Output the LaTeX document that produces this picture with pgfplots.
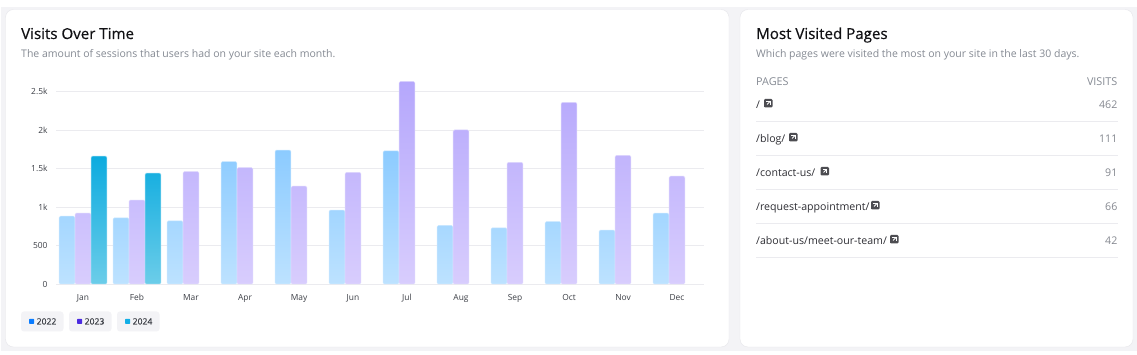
\documentclass[border=0pt]{standalone}
\usepackage{pgfplots}
\pgfplotsset{compat=1.18}
\usepackage{fontspec}
\setmainfont{Open Sans}
\definecolor{pagebg}{HTML}{F3F3F6}
\definecolor{cardline}{HTML}{E6E6EA}
\definecolor{gridc}{HTML}{EBEBEF}
\definecolor{ttl}{HTML}{111114}
\definecolor{sub}{HTML}{858A93}
\definecolor{ticktxt}{HTML}{3C3F46}
\definecolor{rowtxt}{HTML}{2E2E34}
\definecolor{numtxt}{HTML}{858890}
\definecolor{bluetop}{HTML}{8CCBFF}
\definecolor{bluebot}{HTML}{BDE2FF}
\definecolor{purptop}{HTML}{B5A7FC}
\definecolor{purpbot}{HTML}{D8CDFD}
\definecolor{tealtop}{HTML}{0CABDF}
\definecolor{tealbot}{HTML}{6CCDE9}
\definecolor{leg1}{HTML}{0A7CFF}
\definecolor{leg2}{HTML}{4B2BE0}
\definecolor{leg3}{HTML}{12AEE6}
\pgfplotstableread{
x y
0 880
1 860
2 820
3 1590
4 1740
5 960
6 1730
7 760
8 730
9 810
10 700
11 920
}\seriesA
\pgfplotstableread{
x y
0 920
1 1090
2 1460
3 1510
4 1270
5 1450
6 2630
7 2000
8 1580
9 2360
10 1670
11 1400
}\seriesB
\pgfplotstableread{
x y
0 1660
1 1440
}\seriesC
\newcommand{\extlink}[2]{%
  \fill[rowtxt!85!white,rounded corners=1.2pt] (#1,#2) rectangle ++(8.5pt,8.5pt);
  \fill[white] (#1+2pt,#2+2pt) rectangle ++(4.5pt,4.5pt);
  \fill[rowtxt!85!white] (#1+0pt,#2+0pt) rectangle ++(5.5pt,5.5pt);
  \draw[white,line width=0.8pt] (#1+3pt,#2+3pt) -- ++(3.2pt,3.2pt);
}
\begin{document}
\begin{tikzpicture}[x=1pt,y=1pt]
\fill[white] (0,0) rectangle (1137,355);
\fill[pagebg] (1,4) rectangle (1137,348);
\draw[cardline,fill=white,rounded corners=8pt] (5.5,8) rectangle (729,345.5);
\draw[cardline,fill=white,rounded corners=8pt] (740,8) rectangle (1133,345.5);
% left header
\node[anchor=base west,inner sep=0pt,text=ttl,font=\fontsize{15.1}{18}\selectfont\addfontfeature{FakeBold=0.5}] at (21,316) {Visits Over Time};
\node[anchor=base west,inner sep=0pt,text=sub,font=\fontsize{10.5}{13}\selectfont] at (21,297.3) {The amount of sessions that users had on your site each month.};
% chart
\begin{axis}[
  at={(56pt,71pt)},anchor=south west,
  scale only axis,width=648pt,height=207.9pt,
  xmin=-0.5,xmax=11.5,ymin=0,ymax=2700,
  axis line style={draw=none},
  axis x line*=bottom, axis y line*=left,
  clip=false,
  ytick={0,500,1000,1500,2000,2500},
  yticklabels={0,500,1k,1.5k,2k,2.5k},
  xtick={0,...,11},
  xticklabels={Jan,Feb,Mar,Apr,May,Jun,Jul,Aug,Sep,Oct,Nov,Dec},
  major tick length=0pt,
  ymajorgrids,
  grid style={gridc,line width=0.9pt},
  tick label style={text=ticktxt,font=\fontsize{8.4}{10}\selectfont},
  /pgf/number format/assume math mode=true,
  xticklabel style={yshift=-6.8pt},
  yticklabel style={xshift=-5pt},
]
\addplot[ybar,bar width=15.6pt,bar shift=-16pt,draw=bluetop!45!white,line width=0.5pt,rounded corners=1.2pt,top color=bluetop,bottom color=bluebot] table[x=x,y=y] {\seriesA};
\addplot[ybar,bar width=15.6pt,bar shift=0pt,draw=purptop!45!white,line width=0.5pt,rounded corners=1.2pt,top color=purptop,bottom color=purpbot] table[x=x,y=y] {\seriesB};
\addplot[ybar,bar width=15.6pt,bar shift=16pt,draw=tealtop!45!white,line width=0.5pt,rounded corners=1.2pt,top color=tealtop,bottom color=tealbot] table[x=x,y=y] {\seriesC};
\end{axis}
% legend chips
\foreach \cx/\lab/\col in {21/2022/leg1,69/2023/leg2,117/2024/leg3}{
  \fill[pagebg,rounded corners=3pt] (\cx,23.5) rectangle ++(42.5,20);
  \fill[\col,rounded corners=0.8pt] (\cx+8,31) rectangle ++(5.2,5.2);
  \node[anchor=base west,inner sep=0pt,text=ticktxt,font=\fontsize{8.6}{10}\selectfont\addfontfeature{FakeBold=0.3}] at (\cx+15.5,30.5) {\lab};
}
% right header
\node[anchor=base west,inner sep=0pt,text=ttl,font=\fontsize{15.1}{18}\selectfont\addfontfeature{FakeBold=0.5}] at (756,316) {Most Visited Pages};
\node[anchor=base west,inner sep=0pt,text=sub,font=\fontsize{10.5}{13}\selectfont] at (756,297.3) {Which pages were visited the most on your site in the last 30 days.};
\node[anchor=base west,inner sep=0pt,text=sub,font=\fontsize{10.8}{12}\selectfont] at (756,269.2) {PAGES};
\node[anchor=base east,inner sep=0pt,text=sub,font=\fontsize{10.8}{12}\selectfont] at (1117.5,269.2) {VISITS};
% rows
\foreach \base/\lab/\val/\ix/\ln in {
  246/{/}/462/764/234,
  212/{/blog/}/111/789/200,
  178/{/contact-us/}/91/820.5/166,
  144/{/request-appointment/}/66/871/132,
  110/{/about-us/meet-our-team/}/42/890/98}{
  \node[anchor=base west,inner sep=0pt,text=rowtxt,font=\fontsize{10.6}{13}\selectfont] at (756,\base) {\lab};
  \node[anchor=base east,inner sep=0pt,text=numtxt,font=\fontsize{10.6}{13}\selectfont] at (1117.5,\base) {\val};
  \draw[gridc,line width=0.9pt] (756,\ln) -- (1117.5,\ln);
  \extlink{\ix}{\base+1.5}
}
\end{tikzpicture}
\end{document}
